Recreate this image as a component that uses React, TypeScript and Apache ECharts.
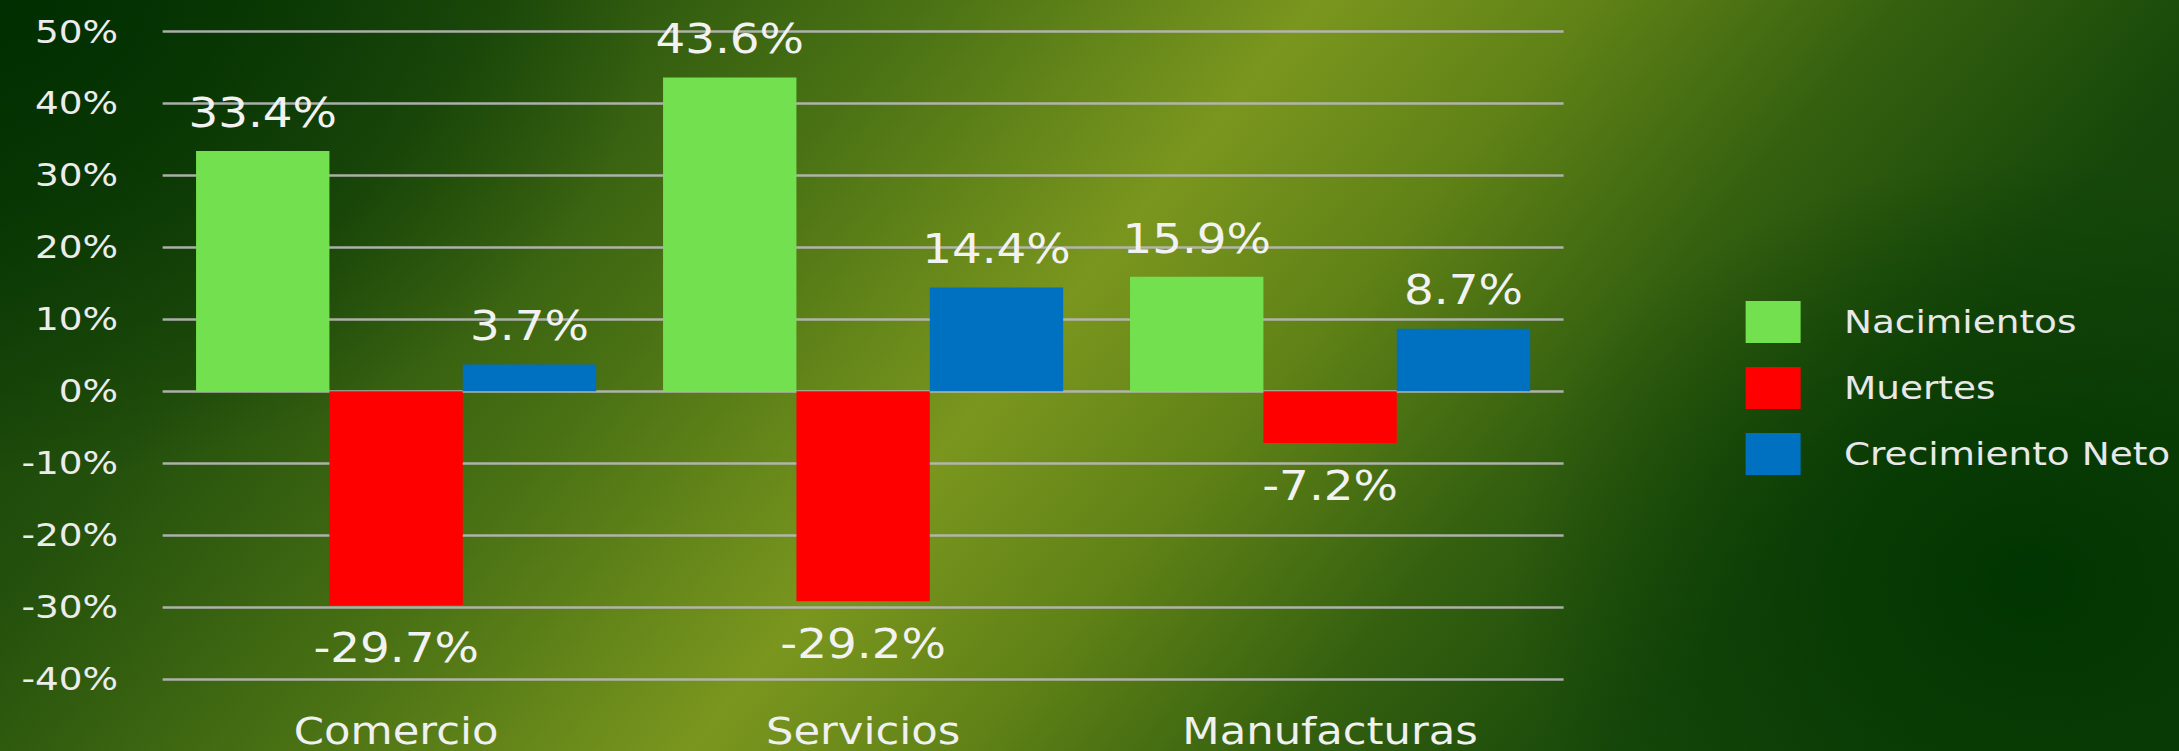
import React, { useEffect, useRef } from "react";
import * as echarts from "echarts";

const categories = ["Comercio", "Servicios", "Manufacturas"];
const seriesNames = ["Nacimientos", "Muertes", "Crecimiento Neto"];
const nacimientos = [33.4, 43.6, 15.9];
const muertes = [-29.7, -29.2, -7.2];
const crecimientoNeto = [3.7, 14.4, 8.7];
const yTicks = { min: -40, max: 50, interval: 10 };

const FULL_W = 2179;
const FULL_H = 751;
const S = 1.17; // horizontal stretch of the reference
const W = FULL_W / S;

export default function App() {
  const ref = useRef<HTMLDivElement>(null);

  useEffect(() => {
    if (!ref.current) return;
    const chart = echarts.init(ref.current, null, { renderer: "svg" });
    const labelStyle = {
      show: true,
      fontSize: 40,
      color: "#f2f2f2",
      fontFamily: "DejaVu Sans",
      formatter: (p: any) => `${Number(p.value).toFixed(1)}%`,
    };
    chart.setOption({
      animation: false,
      backgroundColor: "transparent",
      textStyle: { fontFamily: "DejaVu Sans" },
      grid: { left: 139, right: W - 1336.8, top: 31.5, bottom: FULL_H - 679, containLabel: false },
      legend: {
        data: seriesNames,
        orient: "vertical",
        left: 1487,
        top: 296,
        icon: "rect",
        itemWidth: 47,
        itemHeight: 42,
        itemGap: 24,
        textStyle: { fontSize: 32, color: "#e8e8e8", padding: [0, 0, 0, 32] },
      },
      xAxis: {
        type: "category",
        data: categories,
        axisLine: { show: false, onZero: false },
        axisTick: { show: false },
        axisLabel: { fontSize: 37, lineHeight: 30, color: "#f0f0f0", margin: 37 },
        splitLine: { show: false },
      },
      yAxis: {
        type: "value",
        min: yTicks.min,
        max: yTicks.max,
        interval: yTicks.interval,
        axisLine: { show: false },
        axisTick: { show: false },
        axisLabel: {
          fontSize: 32,
          color: "#ececec",
          margin: 38,
          formatter: (v: number) => `${v}%`,
        },
        splitLine: { lineStyle: { color: "rgba(185,185,185,0.92)", width: 2.5 } },
      },
      series: [
        {
          name: seriesNames[0],
          type: "bar",
          data: nacimientos,
          barWidth: 114,
          barGap: "0%",
          itemStyle: { color: "#73e04f" },
          label: { ...labelStyle, position: "top", distance: 18 },
        },
        {
          name: seriesNames[1],
          type: "bar",
          data: muertes,
          barWidth: 114,
          barGap: "0%",
          itemStyle: { color: "#ff0000" },
          label: { ...labelStyle, position: "bottom", distance: 23 },
        },
        {
          name: seriesNames[2],
          type: "bar",
          data: crecimientoNeto,
          barWidth: 114,
          barGap: "0%",
          itemStyle: { color: "#0070c0" },
          label: { ...labelStyle, position: "top", distance: 18 },
        },
      ],
    });
    return () => chart.dispose();
  }, []);

  const background = [
    "radial-gradient(ellipse 520px 420px at 2030px 580px, rgba(0,52,0,0.95), rgba(0,52,0,0) 100%)",
    "radial-gradient(ellipse 650px 480px at 0px 0px, rgba(0,46,0,0.97), rgba(0,46,0,0) 100%)",
    "linear-gradient(130deg, #0a3a04 0%, #23500c 18%, #4a7214 33%, #7a961e 47%, #5f8116 57%, #34600f 68%, #17480a 80%, #0e4008 100%)",
  ].join(", ");

  return (
    <div
      style={{
        position: "absolute",
        left: 0,
        top: 0,
        width: FULL_W,
        height: FULL_H,
        overflow: "hidden",
        background,
      }}
    >
      <div
        ref={ref}
        style={{
          width: W,
          height: FULL_H,
          transform: `scaleX(${S})`,
          transformOrigin: "0 0",
        }}
      />
    </div>
  );
}
